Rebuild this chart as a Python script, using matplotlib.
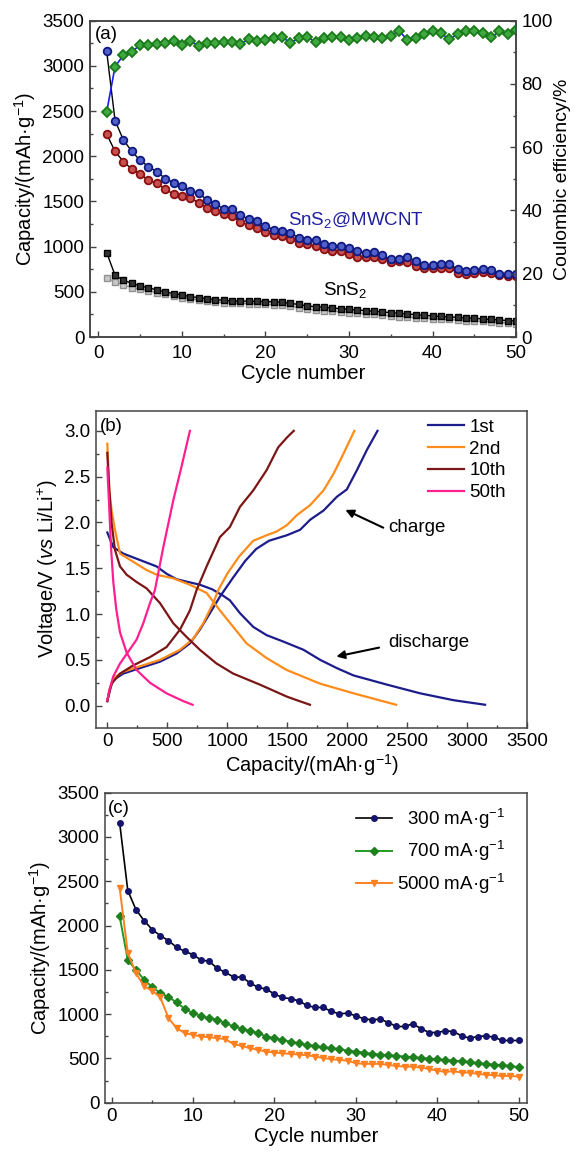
import matplotlib
matplotlib.use("Agg")
import matplotlib.pyplot as plt
from matplotlib.ticker import MultipleLocator

plt.rcParams['font.family'] = ['Liberation Sans', 'DejaVu Sans']
plt.rcParams['mathtext.fontset'] = 'custom'
plt.rcParams['mathtext.rm'] = 'Liberation Sans'
plt.rcParams['mathtext.it'] = 'Liberation Sans:italic'
plt.rcParams['font.size'] = 13.5
plt.rcParams['axes.labelsize'] = 14.5

ciclos = list(range(1, 51))

# (a) SnS2@MWCNT: descarga (azul) / carga (rojo), mAh/g  -- misma celda que 300 mA/g en (c)
mwcnt_descarga = [3160, 2395, 2180, 2056, 1954, 1886, 1829, 1754, 1709, 1671,
                  1611, 1596, 1516, 1471, 1418, 1418, 1354, 1301, 1283, 1226,
                  1188, 1173, 1150, 1098, 1075, 1075, 1030, 1003, 1011, 981,
                  947, 935, 943, 905, 860, 860, 890, 837, 792, 792,
                  811, 803, 754, 728, 747, 754, 739, 702, 702, 702]
mwcnt_carga = [2246, 2053, 1942, 1858, 1803, 1736, 1699, 1636, 1581, 1562,
               1536, 1488, 1433, 1389, 1359, 1340, 1274, 1237, 1211, 1163,
               1130, 1119, 1082, 1045, 1027, 1008, 971, 953, 953, 916,
               890, 890, 886, 861, 834, 842, 834, 786, 761, 761,
               768, 761, 713, 702, 713, 720, 705, 687, 676, 676]
# SnS2 puro
sns2_descarga = [934, 683, 628, 595, 565, 546, 520, 499, 480, 465,
                 447, 436, 425, 414, 406, 400, 398, 396, 394, 392,
                 390, 385, 372, 360, 343, 336, 328, 320, 313, 306,
                 299, 292, 285, 278, 270, 262, 255, 248, 240, 233,
                 228, 222, 217, 212, 207, 200, 194, 188, 182, 177]
sns2_carga = [657, 609, 576, 546, 528, 510, 492, 475, 455, 436,
              425, 412, 400, 390, 380, 375, 372, 370, 366, 362,
              358, 350, 340, 322, 306, 298, 292, 286, 278, 270,
              262, 256, 250, 242, 233, 226, 220, 214, 208, 203,
              198, 194, 188, 182, 177, 172, 166, 160, 154, 147]
# eficiencia coulombica (%)
eficiencia = [71.2, 85.5, 89.1, 90.2, 92.3, 92.3, 92.6, 93.1, 93.7, 92.3,
              93.7, 91.9, 93.1, 93.1, 93.4, 93.4, 92.6, 94.2, 93.7, 93.9,
              94.5, 94.7, 93.1, 94.4, 94.7, 93.4, 94.4, 94.9, 94.7, 93.9,
              94.5, 95.2, 94.7, 94.5, 95.2, 96.8, 93.9, 94.5, 95.8, 96.6,
              96.0, 94.2, 95.8, 96.8, 96.6, 96.0, 94.7, 96.6, 95.8, 97.0]

# (b) curvas de carga/descarga: capacidad (mAh/g), voltaje (V)
d1_cap = [0, 50, 133, 272, 411, 494, 578, 772, 875, 966, 1022, 1106, 1217, 1328,
          1467, 1636, 1775, 1914, 2053, 2331, 2608, 2886, 3150]
d1_v = [1.89, 1.73, 1.66, 1.59, 1.52, 1.44, 1.38, 1.32, 1.27, 1.20, 1.15, 1.01, 0.86,
        0.77, 0.70, 0.61, 0.50, 0.41, 0.33, 0.23, 0.135, 0.06, 0.01]
c1_cap = [0, 21, 50, 133, 272, 439, 578, 689, 772, 856, 939, 1050, 1150, 1241, 1348,
          1497, 1608, 1692, 1803, 1914, 1997, 2081, 2164, 2253]
c1_v = [0.05, 0.18, 0.28, 0.35, 0.41, 0.48, 0.57, 0.68, 0.83, 1.01, 1.19, 1.40, 1.58,
        1.71, 1.80, 1.86, 1.92, 2.03, 2.13, 2.28, 2.36, 2.57, 2.79, 3.0]
d2_cap = [0, 17, 36, 64, 106, 217, 328, 411, 550, 689, 828, 939, 1050, 1161, 1328,
          1495, 1775, 2053, 2408]
d2_v = [2.86, 2.35, 2.13, 1.92, 1.66, 1.57, 1.48, 1.43, 1.39, 1.32, 1.23, 1.04, 0.86,
        0.68, 0.52, 0.39, 0.24, 0.135, 0.01]
c2_cap = [0, 21, 50, 133, 272, 439, 606, 717, 800, 883, 925, 1000, 1100, 1217, 1328,
          1411, 1497, 1581, 1692, 1803, 1886, 1969, 2060]
c2_v = [0.05, 0.18, 0.30, 0.37, 0.43, 0.50, 0.61, 0.73, 0.90, 1.12, 1.26, 1.44, 1.63,
        1.80, 1.86, 1.90, 1.97, 2.08, 2.19, 2.35, 2.53, 2.75, 3.0]
d10_cap = [0, 17, 36, 64, 106, 161, 244, 328, 439, 550, 661, 772, 911, 1050, 1272,
           1495, 1580, 1690]
d10_v = [2.76, 2.35, 1.99, 1.70, 1.52, 1.43, 1.35, 1.28, 1.12, 0.90, 0.75, 0.61, 0.46,
         0.35, 0.23, 0.10, 0.06, 0.01]
c10_cap = [0, 36, 106, 217, 356, 494, 606, 689, 744, 828, 939, 1022, 1106, 1217, 1328,
           1425, 1500, 1555]
c10_v = [0.05, 0.24, 0.35, 0.44, 0.53, 0.64, 0.83, 1.04, 1.26, 1.52, 1.84, 1.95, 2.17,
         2.35, 2.57, 2.82, 2.93, 3.0]
d50_cap = [0, 15, 30, 50, 75, 106, 161, 244, 356, 494, 633, 711]
d50_v = [2.60, 2.20, 1.75, 1.35, 1.05, 0.80, 0.58, 0.39, 0.25, 0.135, 0.05, 0.01]
c50_cap = [0, 17, 50, 106, 175, 244, 300, 356, 397, 467, 550, 619, 689]
c50_v = [0.06, 0.17, 0.32, 0.46, 0.59, 0.72, 0.90, 1.12, 1.26, 1.73, 2.24, 2.61, 3.0]

# (c) distintas densidades de corriente
cap_700 = [2105, 1607, 1501, 1388, 1305, 1237, 1192, 1132, 1060, 1011,
           981, 951, 935, 898, 860, 837, 811, 785, 747, 728,
           709, 687, 671, 653, 641, 626, 615, 604, 588, 577,
           566, 551, 543, 536, 528, 521, 513, 505, 498, 490,
           483, 475, 468, 460, 445, 438, 430, 422, 415, 400]
cap_5000 = [2425, 1690, 1464, 1313, 1264, 1188, 954, 841, 785, 766,
            747, 739, 728, 717, 660, 641, 615, 596, 577, 566,
            558, 551, 543, 536, 521, 505, 490, 483, 475, 445,
            438, 438, 438, 426, 415, 407, 407, 396, 381, 362,
            347, 355, 340, 340, 324, 317, 309, 302, 302, 294]

GRIS = '#444444'


def estilo(ax):
    for s in ax.spines.values():
        s.set_color(GRIS)
        s.set_linewidth(1.1)
    ax.tick_params(which='both', direction='in', color=GRIS, width=1, pad=4)
    ax.tick_params(which='major', length=4)
    ax.tick_params(which='minor', length=2.5)


fig = plt.figure(figsize=(5.75, 11.51), dpi=100)

# ---------- (a) ----------
axA = fig.add_axes([0.1565, 0.7072, 0.741, 0.2748])
axA2 = axA.twinx()
axA.plot(ciclos, sns2_carga, '-s', color='#999999', ms=5, mfc='#c8c8c8', mec='#909090', lw=1, zorder=2)
axA.plot(ciclos, sns2_descarga, '-s', color='black', ms=5, mfc='#333333', mec='black', lw=1, zorder=3)
axA.plot(ciclos, mwcnt_carga, '-o', color='black', ms=5.5, mfc='#c85050', mec='#8b1010', mew=1.3, lw=1, zorder=3)
axA.plot(ciclos, mwcnt_descarga, '-o', color='black', ms=5.5, mfc='#5060c8', mec='#101a80', mew=1.3, lw=1, zorder=4)
axA2.plot(ciclos, eficiencia, '-D', color='#1a1aff', ms=5.5, mfc='#40a840', mec='#1a7a1a', mew=1.3, lw=1.2)
axA.set_xlim(-1, 50)
axA.set_ylim(0, 3500)
axA2.set_ylim(0, 100)
axA.xaxis.set_major_locator(MultipleLocator(10))
axA.xaxis.set_minor_locator(MultipleLocator(5))
axA.yaxis.set_major_locator(MultipleLocator(500))
axA.yaxis.set_minor_locator(MultipleLocator(250))
axA2.yaxis.set_major_locator(MultipleLocator(20))
axA2.yaxis.set_minor_locator(MultipleLocator(10))
axA.set_xlabel('Cycle number', labelpad=1)
axA.set_ylabel('Capacity/(mAh·g$^{-1}$)', labelpad=3)
axA2.set_ylabel('Coulombic efficiency/%', labelpad=1, fontsize=14)
axA.text(30.8, 1295, 'SnS$_2$@MWCNT', color='#1f1fa0', ha='center', va='center')
axA.text(29.5, 520, 'SnS$_2$', color='black', ha='center', va='center')
axA.text(0.012, 0.955, '(a)', transform=axA.transAxes, ha='left', va='center')
estilo(axA)
estilo(axA2)
axA.tick_params(axis='x', which='major', pad=6)

# ---------- (b) ----------
axB = fig.add_axes([0.167, 0.3678, 0.7496, 0.2754])
curvas = [
    ('1st', '#1c1c8c', d1_cap, d1_v, c1_cap, c1_v),
    ('2nd', '#ff8c1a', d2_cap, d2_v, c2_cap, c2_v),
    ('10th', '#7b1616', d10_cap, d10_v, c10_cap, c10_v),
    ('50th', '#ff1f8f', d50_cap, d50_v, c50_cap, c50_v),
]
for nombre, color, dc, dv, cc, cv in curvas:
    axB.plot(dc, dv, color=color, lw=1.6, label=nombre)
    axB.plot(cc, cv, color=color, lw=1.6)
axB.set_xlim(-94, 3500)
axB.set_ylim(-0.24, 3.22)
axB.xaxis.set_major_locator(MultipleLocator(500))
axB.xaxis.set_minor_locator(MultipleLocator(250))
axB.yaxis.set_major_locator(MultipleLocator(0.5))
axB.yaxis.set_minor_locator(MultipleLocator(0.25))
axB.yaxis.set_major_formatter(matplotlib.ticker.FormatStrFormatter('%.1f'))
axB.set_xlabel('Capacity/(mAh·g$^{-1}$)', labelpad=1)
axB.set_ylabel('Voltage/V ($\\it{vs}$ Li/Li$^{+}$)', labelpad=3)
axB.legend(loc='upper left', bbox_to_anchor=(0.77, 0.975), frameon=False,
           handlelength=1.9, handletextpad=0.3, labelspacing=0.25,
           borderpad=0, borderaxespad=0)
axB.annotate('', xy=(1964, 2.15), xytext=(2322, 1.93),
             arrowprops=dict(arrowstyle='-|>', color='black', lw=1.5, mutation_scale=12))
axB.annotate('', xy=(1887, 0.53), xytext=(2289, 0.64),
             arrowprops=dict(arrowstyle='-|>', color='black', lw=1.5, mutation_scale=12))
axB.text(2339, 1.95, 'charge', ha='left', va='center')
axB.text(2345, 0.69, 'discharge', ha='left', va='center')
axB.text(0.01, 0.95, '(b)', transform=axB.transAxes, ha='left', va='center')
estilo(axB)

# ---------- (c) ----------
axC = fig.add_axes([0.1826, 0.042, 0.7334, 0.2693])
axC.plot(ciclos, mwcnt_descarga, '-o', color='black', ms=4, mfc='#14146e', mec='#14146e', lw=1.2,
         label='\u2007300 mA·g$^{-1}$')
axC.plot(ciclos, cap_700, '-D', color='#229922', ms=3.8, mfc='#1f801f', mec='#1f801f', lw=1.4,
         label='\u2007700 mA·g$^{-1}$')
axC.plot(ciclos, cap_5000, '-v', color='#ff8020', ms=5, mfc='#ff8020', mec='#ff8020', lw=1.4,
         label='5000 mA·g$^{-1}$')
axC.set_xlim(-0.8, 51)
axC.set_ylim(0, 3500)
axC.xaxis.set_major_locator(MultipleLocator(10))
axC.xaxis.set_minor_locator(MultipleLocator(5))
axC.yaxis.set_major_locator(MultipleLocator(500))
axC.yaxis.set_minor_locator(MultipleLocator(250))
axC.set_xlabel('Cycle number', labelpad=1)
axC.set_ylabel('Capacity/(mAh·g$^{-1}$)', labelpad=3)
axC.legend(loc='upper left', bbox_to_anchor=(0.595, 0.955), frameon=False,
           handlelength=1.9, handletextpad=0.3, labelspacing=0.45,
           borderpad=0, borderaxespad=0)
axC.text(0.008, 0.95, '(c)', transform=axC.transAxes, ha='left', va='center')
estilo(axC)

fig.savefig('out.png', dpi=100)
